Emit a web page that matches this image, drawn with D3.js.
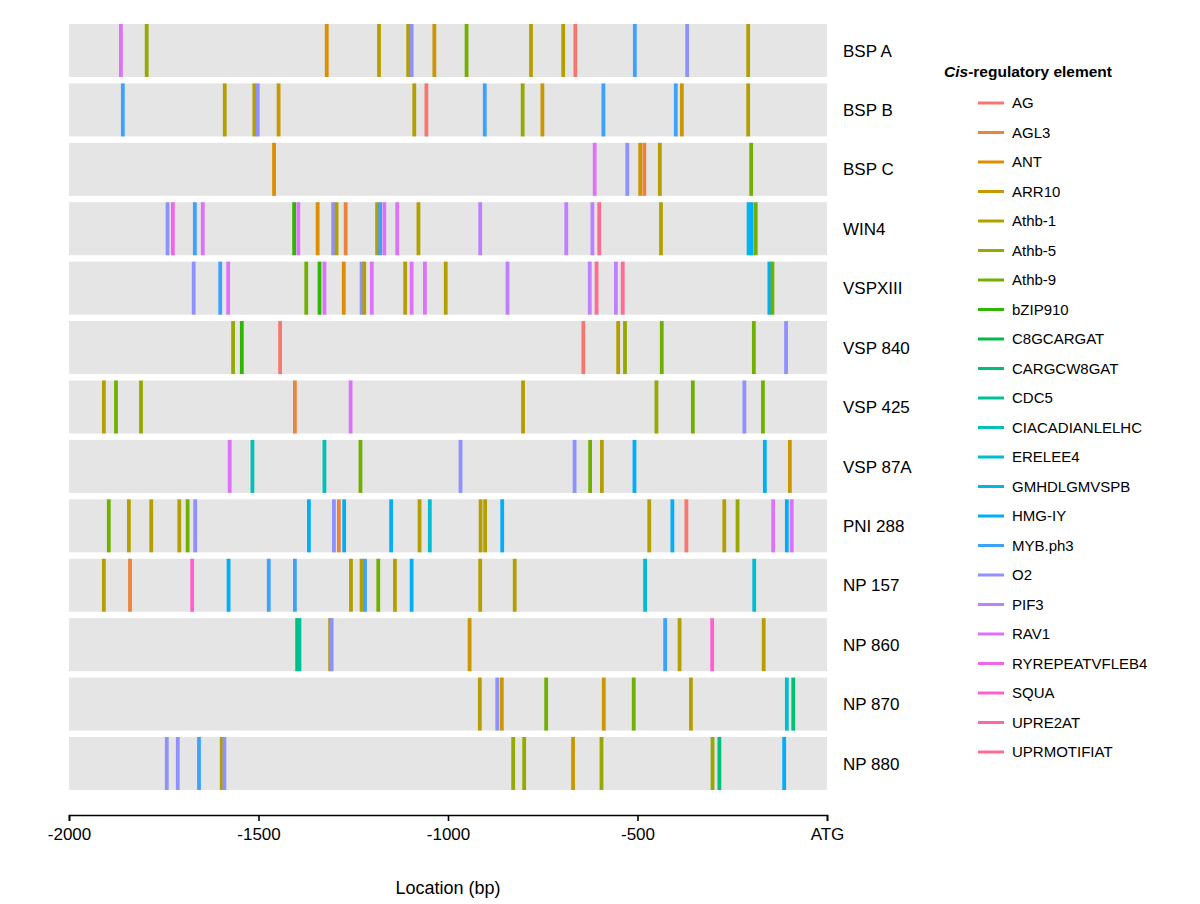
<!DOCTYPE html>
<html>
<head>
<meta charset="utf-8">
<script src="https://cdn.jsdelivr.net/npm/d3@7"></script>
<style>
  body { margin: 0; background: #fff; }
  svg text { font-family: "Liberation Sans", Arial, sans-serif; fill: #000; }
</style>
</head>
<body>
<svg id="chart" width="1200" height="904"></svg>
<script>
// promoter names, top to bottom
var genes = ['BSP A', 'BSP B', 'BSP C', 'WIN4', 'VSPXIII', 'VSP 840', 'VSP 425',
  'VSP 87A', 'PNI 288', 'NP 157', 'NP 860', 'NP 870', 'NP 880'];

// legend order
var elements = ['AG', 'AGL3', 'ANT', 'ARR10', 'Athb-1', 'Athb-5', 'Athb-9', 'bZIP910',
  'C8GCARGAT', 'CARGCW8GAT', 'CDC5', 'CIACADIANLELHC', 'ERELEE4', 'GMHDLGMVSPB',
  'HMG-IY', 'MYB.ph3', 'O2', 'PIF3', 'RAV1', 'RYREPEATVFLEB4', 'SQUA', 'UPRE2AT',
  'UPRMOTIFIAT'];

var xTicks = [-2000, -1500, -1000, -500, 0];

// [location (bp), element] per promoter
var bspA = [[-1863, 'RAV1'], [-1795, 'Athb-5'], [-1320, 'ANT'], [-1182, 'Athb-1'],
  [-1105, 'Athb-1'], [-1096, 'O2'], [-1036, 'ARR10'], [-951, 'Athb-9'], [-781, 'Athb-1'],
  [-696, 'Athb-1'], [-664, 'AG'], [-507, 'MYB.ph3'], [-369, 'O2'], [-208, 'Athb-1']];
var bspB = [[-1858, 'MYB.ph3'], [-1589, 'Athb-1'], [-1511, 'Athb-1'], [-1502, 'O2'],
  [-1447, 'ARR10'], [-1089, 'Athb-1'], [-1057, 'AG'], [-903, 'MYB.ph3'], [-803, 'Athb-5'],
  [-751, 'ARR10'], [-590, 'MYB.ph3'], [-399, 'MYB.ph3'], [-383, 'ARR10'], [-208, 'Athb-1']];
var bspC = [[-1459, 'ANT'], [-613, 'RAV1'], [-527, 'O2'], [-493, 'ARR10'], [-482, 'AGL3'],
  [-441, 'Athb-1'], [-200, 'Athb-9']];
var win4 = [[-1740, 'O2'], [-1726, 'RYREPEATVFLEB4'], [-1668, 'MYB.ph3'], [-1647, 'RAV1'],
  [-1406, 'bZIP910'], [-1395, 'RAV1'], [-1344, 'ANT'], [-1303, 'O2'], [-1294, 'Athb-1'],
  [-1270, 'AGL3'], [-1187, 'Athb-1'], [-1179, 'MYB.ph3'], [-1168, 'RAV1'], [-1134, 'RAV1'],
  [-1078, 'Athb-1'], [-915, 'PIF3'], [-688, 'PIF3'], [-619, 'PIF3'], [-601, 'UPRMOTIFIAT'],
  [-438, 'Athb-1'], [-207, 'GMHDLGMVSPB'], [-199, 'HMG-IY'], [-188, 'Athb-9']];
var vspXIII = [[-1671, 'O2'], [-1601, 'MYB.ph3'], [-1580, 'RAV1'], [-1374, 'Athb-9'],
  [-1339, 'bZIP910'], [-1326, 'RAV1'], [-1275, 'ANT'], [-1228, 'O2'], [-1221, 'Athb-1'],
  [-1201, 'RAV1'], [-1113, 'Athb-1'], [-1096, 'RAV1'], [-1061, 'RAV1'], [-1006, 'Athb-1'],
  [-843, 'PIF3'], [-626, 'PIF3'], [-608, 'UPRMOTIFIAT'], [-557, 'PIF3'],
  [-539, 'UPRMOTIFIAT'], [-152, 'HMG-IY'], [-144, 'Athb-9']];
var vsp840 = [[-1567, 'Athb-5'], [-1544, 'bZIP910'], [-1443, 'AG'], [-643, 'AG'],
  [-551, 'Athb-1'], [-533, 'Athb-5'], [-436, 'Athb-9'], [-193, 'Athb-9'], [-108, 'O2']];
var vsp425 = [[-1908, 'Athb-1'], [-1876, 'Athb-9'], [-1810, 'Athb-5'], [-1404, 'AGL3'],
  [-1257, 'RAV1'], [-802, 'Athb-1'], [-450, 'Athb-5'], [-354, 'Athb-9'], [-218, 'O2'],
  [-169, 'Athb-9']];
var vsp87A = [[-1576, 'RAV1'], [-1516, 'CIACADIANLELHC'], [-1326, 'CIACADIANLELHC'],
  [-1231, 'Athb-9'], [-967, 'O2'], [-666, 'O2'], [-625, 'Athb-9'], [-594, 'Athb-1'],
  [-508, 'HMG-IY'], [-164, 'HMG-IY'], [-98, 'ARR10']];
var pni288 = [[-1895, 'Athb-9'], [-1842, 'Athb-1'], [-1783, 'Athb-1'], [-1709, 'Athb-1'],
  [-1687, 'Athb-9'], [-1667, 'O2'], [-1367, 'HMG-IY'], [-1301, 'O2'], [-1288, 'AGL3'],
  [-1274, 'HMG-IY'], [-1150, 'HMG-IY'], [-1075, 'Athb-1'], [-1048, 'ERELEE4'],
  [-914, 'Athb-1'], [-902, 'Athb-1'], [-857, 'HMG-IY'], [-469, 'Athb-1'], [-408, 'HMG-IY'],
  [-371, 'AG'], [-271, 'Athb-1'], [-236, 'Athb-5'], [-142, 'RAV1'], [-106, 'HMG-IY'],
  [-93, 'RAV1']];
var np157 = [[-1908, 'Athb-1'], [-1839, 'AGL3'], [-1675, 'SQUA'], [-1579, 'HMG-IY'],
  [-1473, 'MYB.ph3'], [-1404, 'MYB.ph3'], [-1256, 'Athb-1'], [-1228, 'Athb-1'],
  [-1219, 'MYB.ph3'], [-1184, 'Athb-9'], [-1140, 'Athb-1'], [-1096, 'HMG-IY'],
  [-915, 'Athb-1'], [-824, 'Athb-1'], [-480, 'ERELEE4'], [-192, 'ERELEE4']];
var np860 = [[-1398, 'CARGCW8GAT'], [-1392, 'CDC5'], [-1311, 'Athb-1'], [-1307, 'O2'],
  [-943, 'ARR10'], [-427, 'MYB.ph3'], [-389, 'Athb-1'], [-303, 'SQUA'], [-167, 'Athb-1']];
var np870 = [[-916, 'Athb-1'], [-870, 'O2'], [-858, 'ARR10'], [-741, 'Athb-9'],
  [-589, 'ARR10'], [-510, 'Athb-9'], [-359, 'Athb-1'], [-106, 'ERELEE4'],
  [-89, 'CARGCW8GAT']];
var np880 = [[-1742, 'O2'], [-1713, 'O2'], [-1657, 'MYB.ph3'], [-1597, 'Athb-1'],
  [-1590, 'O2'], [-828, 'Athb-5'], [-799, 'Athb-5'], [-670, 'ARR10'], [-595, 'Athb-5'],
  [-302, 'Athb-5'], [-284, 'CARGCW8GAT'], [-113, 'HMG-IY']];

var siteLists = [bspA, bspB, bspC, win4, vspXIII, vsp840, vsp425, vsp87A, pni288,
  np157, np860, np870, np880];

// ggplot-style hue palette: polar CIE-LUV, c=100, l=65
function hclLuv(h, c, l) {
  var hr = h * Math.PI / 180;
  var u = c * Math.cos(hr), v = c * Math.sin(hr);
  var Xn = 95.047, Yn = 100, Zn = 108.883;
  var un = 4 * Xn / (Xn + 15 * Yn + 3 * Zn), vn = 9 * Yn / (Xn + 15 * Yn + 3 * Zn);
  var Y = Yn * Math.pow((l + 16) / 116, 3);
  var up = u / (13 * l) + un, vp = v / (13 * l) + vn;
  var X = Y * 9 * up / (4 * vp);
  var Z = Y * (12 - 3 * up - 20 * vp) / (4 * vp);
  X /= 100; Y /= 100; Z /= 100;
  var lin = [
    3.2404542 * X - 1.5371385 * Y - 0.4985314 * Z,
    -0.9692660 * X + 1.8760108 * Y + 0.0415560 * Z,
    0.0556434 * X - 0.2040259 * Y + 1.0572252 * Z
  ];
  var rgb = lin.map(function(q) {
    var s = q <= 0.0031308 ? 12.92 * q : 1.055 * Math.pow(q, 1 / 2.4) - 0.055;
    return Math.round(Math.max(0, Math.min(1, s)) * 255);
  });
  return d3.rgb(rgb[0], rgb[1], rgb[2]).formatHex();
}

var n = elements.length;
var palette = elements.map(function(d, i) { return hclLuv(15 + i * 360 / n, 100, 65); });
var color = d3.scaleOrdinal().domain(elements).range(palette);

var svg = d3.select('#chart');

var x = d3.scaleLinear().domain([-2000, 0]).range([69, 827]);
var y = d3.scaleBand().domain(genes).range([24, 790]).paddingInner(0.108);

var panels = svg.append('g').selectAll('g')
  .data(genes)
  .enter()
  .append('g')
  .attr('transform', function(d) { return 'translate(0,' + y(d) + ')'; });

panels.append('rect')
  .attr('x', x(-2000))
  .attr('width', x(0) - x(-2000))
  .attr('height', y.bandwidth())
  .attr('fill', '#e5e5e5');

panels.each(function(gene, i) {
  d3.select(this).selectAll('line')
    .data(siteLists[i])
    .enter()
    .append('line')
    .attr('x1', function(d) { return x(d[0]); })
    .attr('x2', function(d) { return x(d[0]); })
    .attr('y1', 0)
    .attr('y2', y.bandwidth())
    .attr('stroke', function(d) { return color(d[1]); })
    .attr('stroke-width', 3.8);
});

// strip labels on the right
panels.append('text')
  .attr('x', 843)
  .attr('y', y.bandwidth() / 2)
  .attr('dy', '0.36em')
  .attr('font-size', 17)
  .text(function(d) { return d; });

// x axis
var axis = svg.append('g')
  .attr('transform', 'translate(0,815)')
  .call(d3.axisBottom(x)
    .tickValues(xTicks)
    .tickSize(6)
    .tickPadding(7)
    .tickFormat(function(d) { return d === 0 ? 'ATG' : String(d); }));
axis.select('.domain').attr('stroke', '#000').attr('stroke-width', 1.6);
axis.selectAll('.tick line').attr('stroke', '#000').attr('stroke-width', 1.6);
axis.selectAll('.tick text')
  .attr('font-size', 17)
  .attr('font-family', '"Liberation Sans", Arial, sans-serif')
  .attr('fill', '#000');

svg.append('text')
  .attr('x', (x(-2000) + x(0)) / 2)
  .attr('y', 894)
  .attr('text-anchor', 'middle')
  .attr('font-size', 18)
  .text('Location (bp)');

// legend
var legend = svg.append('g').attr('transform', 'translate(944,0)');
var title = legend.append('text')
  .attr('x', 0)
  .attr('y', 77)
  .attr('font-size', 15.5)
  .attr('font-weight', 'bold');
title.append('tspan').attr('font-style', 'italic').text('Cis');
title.append('tspan').text('-regulatory element');

var ly = d3.scalePoint().domain(elements).range([103, 752]);
var items = legend.selectAll('.item')
  .data(elements)
  .enter()
  .append('g')
  .attr('class', 'item')
  .attr('transform', function(d) { return 'translate(0,' + ly(d) + ')'; });

items.append('line')
  .attr('x1', 34)
  .attr('x2', 60)
  .attr('stroke', function(d) { return color(d); })
  .attr('stroke-width', 3);

items.append('text')
  .attr('x', 68)
  .attr('dy', '0.36em')
  .attr('font-size', 15)
  .text(function(d) { return d; });
</script>
</body>
</html>
